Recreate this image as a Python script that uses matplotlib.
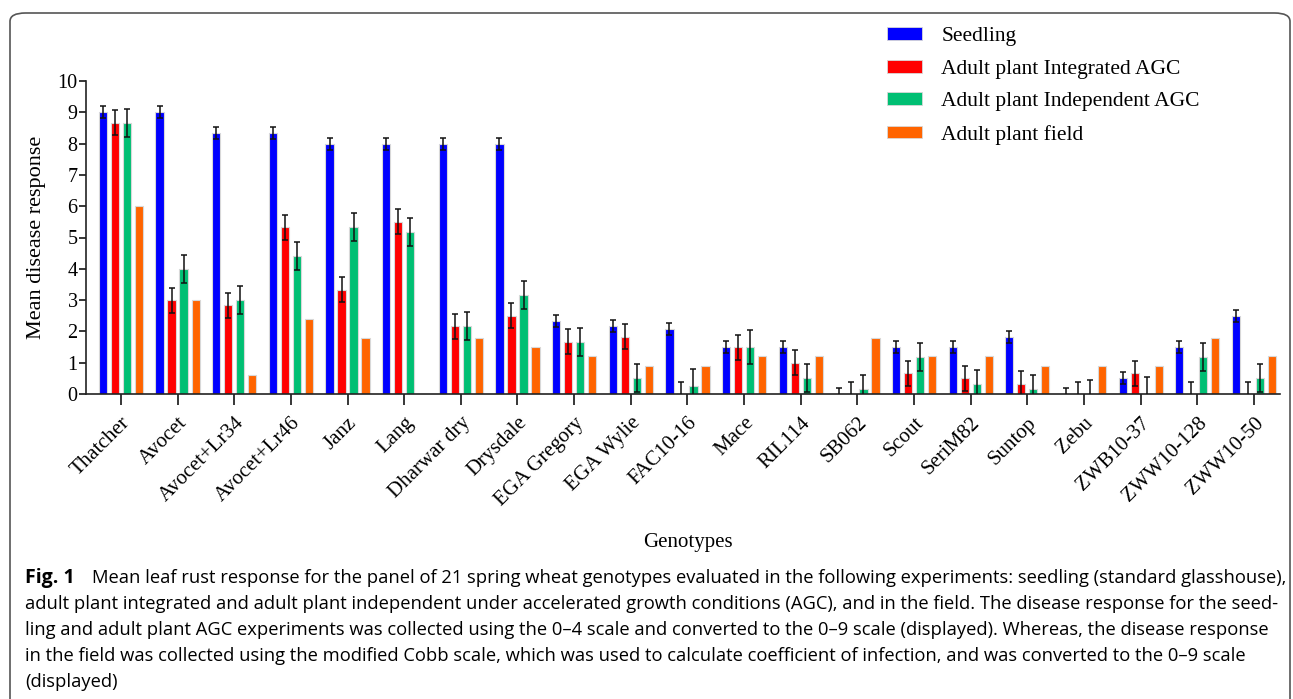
import numpy as np
import matplotlib.pyplot as plt
from matplotlib.patches import FancyBboxPatch, Patch

genotypes = ["Thatcher", "Avocet", "Avocet+Lr34", "Avocet+Lr46", "Janz", "Lang",
             "Dharwar dry", "Drysdale", "EGA Gregory", "EGA Wylie", "FAC10-16",
             "Mace", "RIL114", "SB062", "Scout", "SeriM82", "Suntop", "Zebu",
             "ZWB10-37", "ZWW10-128", "ZWW10-50"]

seedling = [9.0, 9.0, 8.33, 8.33, 8.0, 8.0, 8.0, 8.0, 2.33, 2.17, 2.07,
            1.5, 1.5, 0.0, 1.5, 1.5, 1.83, 0.0, 0.5, 1.5, 2.5]
seedling_err = [0.19, 0.19, 0.19, 0.19, 0.19, 0.19, 0.19, 0.19, 0.19, 0.19, 0.19,
                0.19, 0.19, 0.18, 0.19, 0.19, 0.19, 0.18, 0.19, 0.19, 0.19]

integrated = [8.67, 3.0, 2.83, 5.33, 3.33, 5.5, 2.17, 2.5, 1.67, 1.83, 0.0,
              1.5, 1.0, 0.0, 0.67, 0.5, 0.33, 0.0, 0.67, 0.0, 0.0]
integrated_err = [0.4, 0.4, 0.4, 0.4, 0.4, 0.4, 0.4, 0.4, 0.4, 0.4, 0.38,
                  0.4, 0.4, 0.38, 0.4, 0.4, 0.4, 0.38, 0.4, 0.38, 0.38]

independent = [8.67, 4.0, 3.0, 4.42, 5.33, 5.17, 2.17, 3.17, 1.67, 0.5, 0.25,
               1.5, 0.5, 0.17, 1.17, 0.33, 0.17, 0.0, 0.0, 1.17, 0.5]
independent_err = [0.45, 0.45, 0.45, 0.45, 0.45, 0.45, 0.45, 0.45, 0.45, 0.45, 0.55,
                   0.55, 0.45, 0.45, 0.45, 0.45, 0.45, 0.44, 0.55, 0.45, 0.45]

field = [6.0, 3.0, 0.6, 2.4, 1.8, 0.0, 1.8, 1.5, 1.2, 0.9, 0.9,
         1.2, 1.2, 1.8, 1.2, 1.2, 0.9, 0.9, 0.9, 1.8, 1.2]

series = ["Seedling", "Adult plant Integrated AGC", "Adult plant Independent AGC", "Adult plant field"]
colors = ["#0000ff", "#ff0000", "#00bf73", "#ff6400"]

serif = ["Liberation Serif", "DejaVu Serif"]

fig = plt.figure(figsize=(12.93, 6.99), dpi=100)
ax = fig.add_axes([86 / 1293, 1 - 394 / 699, (1280 - 86) / 1293, (394 - 81) / 699])

x = np.arange(len(genotypes))
pitch = 0.212
width = 0.145
vals = [seedling, integrated, independent, field]
errs = [seedling_err, integrated_err, independent_err, None]
for i, (v, e, c) in enumerate(zip(vals, errs, colors)):
    pos = x + (i - 1.5) * pitch
    ax.bar(pos, v, width, color=c, edgecolor="#d8d8d8", linewidth=0.8, zorder=2)
    if e is not None:
        ax.errorbar(pos, v, yerr=e, fmt="none", ecolor="#111111", elinewidth=1.1,
                    capsize=2.2, capthick=1.1, zorder=3)

ax.set_ylim(0, 10)
ax.set_xlim(-0.617, 20.46)
ax.set_yticks(range(0, 11))
ax.set_xticks(x)
ax.set_xticklabels(genotypes, rotation=45, ha="right", rotation_mode="anchor",
                   family=serif, fontsize=15)
for lab in ax.get_yticklabels():
    lab.set_family(serif)
    lab.set_fontsize(14.5)
ax.tick_params(axis="y", direction="out", length=5, width=1.1, pad=1)
ax.tick_params(axis="x", direction="out", length=8, width=1.1, pad=6)
for s in ["top", "right"]:
    ax.spines[s].set_visible(False)
for s in ["left", "bottom"]:
    ax.spines[s].set_linewidth(1.2)
    ax.spines[s].set_color("#222222")
ax.set_ylabel("Mean disease response", family=serif, fontsize=16, labelpad=8)

handles = [Patch(facecolor=c, edgecolor="#d8d8d8", linewidth=0.6) for c in colors]
fig.legend(handles, series, loc="upper left", bbox_to_anchor=(868 / 1293, 1 - 8 / 699),
           frameon=False, prop={"family": serif, "size": 15.5}, handlelength=1.6,
           handleheight=0.55, handletextpad=0.9, labelspacing=0.62)

fig.text(688 / 1293, 1 - 543 / 699, "Genotypes", family=serif, fontsize=15,
         ha="center", va="center")

caption = [
    "Mean leaf rust response for the panel of 21 spring wheat genotypes evaluated in the following experiments: seedling (standard glasshouse),",
    "adult plant integrated and adult plant independent under accelerated growth conditions (AGC), and in the field. The disease response for the seed-",
    "ling and adult plant AGC experiments was collected using the 0\u20134 scale and converted to the 0\u20139 scale (displayed). Whereas, the disease response",
    "in the field was collected using the modified Cobb scale, which was used to calculate coefficient of infection, and was converted to the 0\u20139 scale",
    "(displayed)",
]
cap_font = ["Open Sans", "DejaVu Sans"]

# size caption so the first line runs to the right edge, like the original
renderer = fig.canvas.get_renderer()
probe = fig.text(0, 0, caption[0], family=cap_font, fontsize=12)
w = probe.get_window_extent(renderer).width
probe.remove()
cap_size = 12 * (1285 - 92) / w

fig.text(25 / 1293, 1 - 578 / 699, "Fig. 1", family=cap_font, fontweight="bold",
         fontsize=cap_size + 0.8, ha="left", va="center")
for k, line in enumerate(caption):
    x0 = 92 if k == 0 else 25
    fig.text(x0 / 1293, 1 - (578 + 26 * k) / 699, line, family=cap_font,
             fontsize=cap_size, ha="left", va="center")

frame = FancyBboxPatch((10 / 1293, -0.05), (1290 - 10) / 1293, 1.05 - 13 / 699,
                       boxstyle="round,pad=0,rounding_size=0.012",
                       transform=fig.transFigure, fill=False,
                       edgecolor="#555555", linewidth=1.2, clip_on=False)
fig.patches.append(frame)

fig.savefig("out.png", dpi=100)
